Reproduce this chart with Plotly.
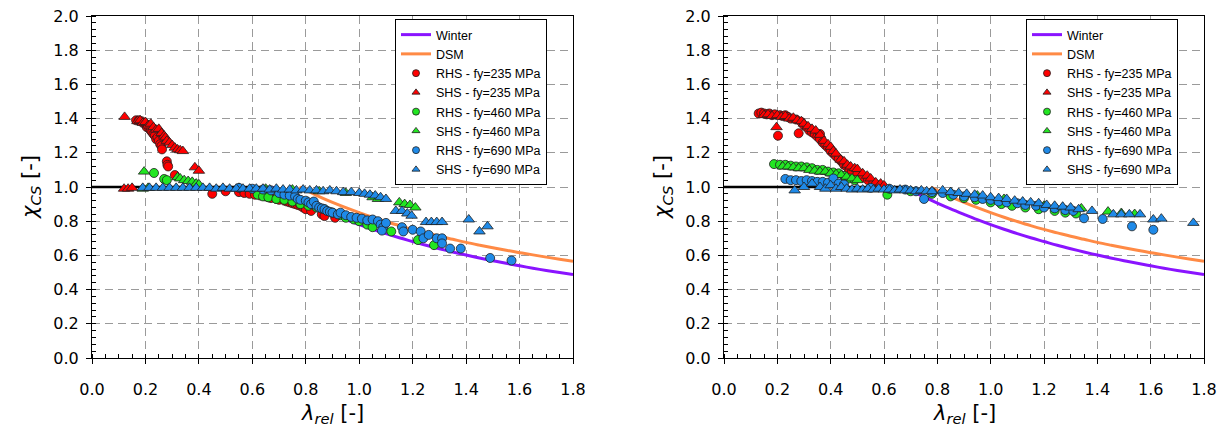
import plotly.graph_objects as go

# ---------------- data ----------------
# design curves (lambda_rel, chi)
WINTER_X = [0.673, 0.70, 0.75, 0.80, 0.85, 0.90, 0.95, 1.00, 1.05, 1.10, 1.15, 1.20, 1.25, 1.30,
            1.35, 1.40, 1.45, 1.50, 1.55, 1.60, 1.65, 1.70, 1.75, 1.80]
WINTER_Y = [1.000, 0.980, 0.942, 0.906, 0.872, 0.840, 0.809, 0.780, 0.753, 0.727, 0.703, 0.681,
            0.659, 0.639, 0.620, 0.602, 0.585, 0.569, 0.554, 0.539, 0.525, 0.512, 0.500, 0.488]
DSM_X = [0.776, 0.80, 0.85, 0.90, 0.95, 1.00, 1.05, 1.10, 1.15, 1.20, 1.25, 1.30, 1.35, 1.40,
         1.45, 1.50, 1.55, 1.60, 1.65, 1.70, 1.75, 1.80]
DSM_Y = [1.000, 0.981, 0.944, 0.910, 0.879, 0.850, 0.823, 0.798, 0.774, 0.752, 0.732, 0.712,
         0.694, 0.676, 0.660, 0.645, 0.630, 0.616, 0.603, 0.590, 0.578, 0.566]
PLATEAU_X = [0.0, 0.673]
PLATEAU_Y = [1.0, 1.0]

# left panel test points (lambda_rel, chi)
A_RHS235 = [(0.165, 1.39), (0.175, 1.39), (0.185, 1.385), (0.19, 1.375), (0.20, 1.37), (0.205, 1.35),
            (0.21, 1.36), (0.215, 1.34), (0.22, 1.33), (0.225, 1.32), (0.23, 1.31), (0.235, 1.30),
            (0.24, 1.28), (0.245, 1.29), (0.25, 1.27), (0.255, 1.25), (0.26, 1.24), (0.262, 1.22),
            (0.28, 1.15), (0.282, 1.13), (0.285, 1.12), (0.31, 1.07), (0.45, 0.96), (0.50, 0.975),
            (0.55, 0.97), (0.57, 0.965), (0.59, 0.96), (0.61, 0.955), (0.63, 0.95), (0.65, 0.945),
            (0.66, 0.94), (0.67, 0.935), (0.69, 0.93), (0.70, 0.925), (0.72, 0.92), (0.73, 0.915),
            (0.74, 0.91), (0.75, 0.905), (0.76, 0.90), (0.77, 0.895), (0.78, 0.89), (0.79, 0.88),
            (0.80, 0.87), (0.82, 0.86), (0.86, 0.84), (0.87, 0.83), (0.91, 0.82)]
A_SHS235 = [(0.122, 1.41), (0.12, 0.99), (0.135, 0.99), (0.15, 0.995), (0.17, 1.385), (0.18, 1.39),
            (0.19, 1.375), (0.20, 1.38), (0.21, 1.36), (0.22, 1.37), (0.23, 1.35), (0.24, 1.335),
            (0.25, 1.34), (0.26, 1.315), (0.27, 1.30), (0.275, 1.29), (0.28, 1.27), (0.29, 1.26),
            (0.30, 1.245), (0.31, 1.23), (0.32, 1.22), (0.33, 1.215), (0.34, 1.21), (0.385, 1.115),
            (0.40, 1.095)]
A_RHS460 = [(0.232, 1.082), (0.27, 1.047), (0.28, 1.04), (0.62, 0.955), (0.64, 0.945), (0.66, 0.94),
            (0.69, 0.93), (0.72, 0.925), (0.75, 0.915), (0.78, 0.90), (0.81, 0.89), (0.84, 0.88),
            (0.87, 0.87), (0.90, 0.85), (0.93, 0.835), (0.95, 0.82), (0.98, 0.81), (1.00, 0.80),
            (1.03, 0.78), (1.05, 0.765), (1.12, 0.74), (1.22, 0.69), (1.28, 0.66)]
A_SHS460 = [(0.19, 0.99), (0.195, 1.09), (0.21, 0.995), (0.32, 1.057), (0.33, 1.05), (0.345, 1.04),
            (0.36, 1.035), (0.375, 1.03), (0.39, 1.02), (0.40, 1.015), (0.55, 0.995), (0.65, 0.99),
            (0.75, 0.985), (0.85, 0.975), (0.95, 0.965), (1.05, 0.94), (1.07, 0.93), (1.15, 0.91),
            (1.17, 0.90), (1.19, 0.895), (1.21, 0.88)]
A_RHS690 = [(0.55, 0.995), (0.60, 0.99), (0.64, 0.985), (0.67, 0.98), (0.70, 0.965), (0.72, 0.955),
            (0.74, 0.95), (0.76, 0.945), (0.77, 0.93), (0.78, 0.925), (0.80, 0.92), (0.81, 0.91),
            (0.82, 0.90), (0.83, 0.915), (0.84, 0.89), (0.85, 0.88), (0.86, 0.875), (0.87, 0.87),
            (0.88, 0.86), (0.89, 0.855), (0.90, 0.85), (0.92, 0.84), (0.93, 0.85), (0.95, 0.835),
            (0.97, 0.825), (0.99, 0.82), (1.01, 0.815), (1.03, 0.805), (1.05, 0.81), (1.07, 0.80),
            (1.08, 0.78), (1.09, 0.765), (1.085, 0.745), (1.10, 0.79), (1.16, 0.765), (1.165, 0.74),
            (1.20, 0.75), (1.23, 0.74), (1.24, 0.70), (1.26, 0.72), (1.29, 0.70), (1.31, 0.70),
            (1.31, 0.67), (1.34, 0.64), (1.38, 0.64), (1.49, 0.585), (1.57, 0.57)]
A_SHS690 = [(0.19, 0.995), (0.215, 0.995), (0.24, 0.995), (0.265, 0.995), (0.29, 0.995), (0.315, 0.995),
            (0.34, 0.995), (0.365, 0.995), (0.39, 0.995), (0.415, 0.995), (0.44, 0.995), (0.465, 0.99),
            (0.49, 0.995), (0.515, 0.99), (0.54, 0.99), (0.565, 0.99), (0.59, 0.99), (0.615, 0.99),
            (0.64, 0.99), (0.665, 0.985), (0.69, 0.99), (0.715, 0.985), (0.74, 0.985), (0.765, 0.98),
            (0.79, 0.985), (0.815, 0.98), (0.84, 0.98), (0.865, 0.975), (0.89, 0.98), (0.915, 0.975),
            (0.94, 0.97), (0.97, 0.97), (1.00, 0.965), (1.02, 0.96), (1.04, 0.955), (1.06, 0.95),
            (1.08, 0.94), (1.10, 0.93), (1.137, 0.86), (1.16, 0.86), (1.18, 0.845), (1.196, 0.832),
            (1.25, 0.795), (1.27, 0.795), (1.29, 0.795), (1.31, 0.795), (1.41, 0.81), (1.45, 0.74),
            (1.48, 0.77)]

# right panel test points (lambda_rel, chi)
B_RHS235 = [(0.13, 1.43), (0.14, 1.435), (0.15, 1.43), (0.16, 1.425), (0.17, 1.43), (0.18, 1.42),
            (0.19, 1.425), (0.2025, 1.30), (0.21, 1.42), (0.22, 1.415), (0.23, 1.42), (0.24, 1.41),
            (0.25, 1.40), (0.28, 1.314), (0.27, 1.395), (0.29, 1.38), (0.30, 1.36), (0.31, 1.35),
            (0.32, 1.33), (0.33, 1.32), (0.34, 1.31), (0.35, 1.295), (0.36, 1.31), (0.36, 1.28),
            (0.37, 1.26), (0.38, 1.245), (0.39, 1.23), (0.40, 1.21), (0.41, 1.195), (0.42, 1.18),
            (0.43, 1.165), (0.44, 1.15), (0.45, 1.13), (0.46, 1.12), (0.47, 1.10), (0.48, 1.09),
            (0.50, 1.075), (0.52, 1.055), (0.54, 1.04), (0.56, 1.025), (0.58, 1.01)]
B_SHS235 = [(0.15, 1.42), (0.165, 1.425), (0.18, 1.415), (0.197, 1.35), (0.20, 1.42), (0.215, 1.41),
            (0.23, 1.415), (0.245, 1.40), (0.26, 1.405), (0.275, 1.39), (0.29, 1.385), (0.30, 1.37),
            (0.315, 1.355), (0.33, 1.34), (0.344, 1.33), (0.36, 1.305), (0.375, 1.27), (0.39, 1.25),
            (0.40, 1.235), (0.41, 1.21), (0.42, 1.195), (0.4375, 1.16), (0.45, 1.15), (0.4625, 1.13),
            (0.475, 1.12), (0.49, 1.11), (0.50, 1.105), (0.52, 1.08), (0.537, 1.066), (0.55, 1.05),
            (0.569, 1.027), (0.5875, 1.02), (0.60, 1.01)]
B_RHS460 = [(0.1875, 1.134), (0.21, 1.13), (0.23, 1.13), (0.25, 1.125), (0.27, 1.12), (0.29, 1.12),
            (0.31, 1.115), (0.33, 1.11), (0.35, 1.10), (0.37, 1.10), (0.39, 1.09), (0.41, 1.085),
            (0.43, 1.08), (0.45, 1.065), (0.47, 1.05), (0.49, 1.04), (0.6125, 0.955), (0.70, 0.975),
            (0.78, 0.96), (0.85, 0.945), (0.90, 0.935), (0.945, 0.925), (1.00, 0.91), (1.04, 0.90),
            (1.08, 0.89), (1.13, 0.88), (1.18, 0.87), (1.24, 0.86), (1.28, 0.85), (1.32, 0.845)]
B_SHS460 = [(0.22, 1.12), (0.24, 1.12), (0.26, 1.115), (0.28, 1.11), (0.30, 1.11), (0.32, 1.10),
            (0.34, 1.095), (0.36, 1.09), (0.38, 1.09), (0.40, 1.08), (0.42, 1.075), (0.44, 1.07),
            (0.46, 1.06), (0.48, 1.05), (0.50, 1.04), (0.85, 0.97), (0.95, 0.95), (1.05, 0.93),
            (1.12, 0.91), (1.20, 0.89), (1.27, 0.88), (1.34, 0.875), (1.44, 0.856), (1.49, 0.848),
            (1.54, 0.842)]
B_RHS690 = [(0.23, 1.047), (0.25, 1.04), (0.27, 1.04), (0.29, 1.035), (0.31, 1.04), (0.33, 1.035),
            (0.35, 1.03), (0.37, 1.03), (0.39, 1.025), (0.41, 1.05), (0.43, 1.02), (0.45, 1.015),
            (0.55, 0.995), (0.62, 0.99), (0.68, 0.985), (0.72, 0.975), (0.75, 0.93), (0.78, 0.97),
            (0.82, 0.965), (0.86, 0.955), (0.90, 0.945), (0.94, 0.94), (0.97, 0.93), (1.00, 0.925),
            (1.03, 0.915), (1.06, 0.91), (1.10, 0.905), (1.13, 0.895), (1.17, 0.89), (1.20, 0.88),
            (1.24, 0.875), (1.28, 0.865), (1.31, 0.86), (1.35, 0.817), (1.42, 0.813), (1.53, 0.77),
            (1.61, 0.75)]
B_SHS690 = [(0.265, 0.98), (0.30, 1.0), (0.33, 1.02), (0.36, 1.0), (0.38, 0.99), (0.40, 1.01),
            (0.42, 0.99), (0.44, 1.0), (0.46, 0.99), (0.48, 0.985), (0.50, 0.99), (0.52, 0.985),
            (0.54, 0.99), (0.56, 0.985), (0.58, 0.99), (0.60, 0.985), (0.62, 0.985), (0.64, 0.98),
            (0.66, 0.985), (0.68, 0.98), (0.70, 0.98), (0.72, 0.975), (0.74, 0.98), (0.76, 0.975),
            (0.78, 0.975), (0.82, 0.98), (0.85, 0.97), (0.88, 0.965), (0.91, 0.96), (0.94, 0.955),
            (0.97, 0.95), (1.00, 0.94), (1.03, 0.935), (1.06, 0.93), (1.09, 0.92), (1.12, 0.915),
            (1.15, 0.91), (1.18, 0.905), (1.21, 0.895), (1.24, 0.89), (1.27, 0.885), (1.30, 0.88),
            (1.33, 0.87), (1.38, 0.86), (1.46, 0.84), (1.49, 0.84), (1.52, 0.84), (1.56, 0.84),
            (1.61, 0.81), (1.64, 0.815), (1.76, 0.79)]

SERIES_NAMES = ["RHS - fy=235 MPa", "SHS - fy=235 MPa", "RHS - fy=460 MPa",
                "SHS - fy=460 MPa", "RHS - fy=690 MPa", "SHS - fy=690 MPa"]
PANEL_A = [A_RHS235, A_SHS235, A_RHS460, A_SHS460, A_RHS690, A_SHS690]
PANEL_B = [B_RHS235, B_SHS235, B_RHS460, B_SHS460, B_RHS690, B_SHS690]

# ---------------- styling ----------------
W, H = 1222, 429
RED, GREEN, BLUE = "#ff0000", "#22e622", "#1f8ae8"
SERIES_COLORS = [RED, RED, GREEN, GREEN, BLUE, BLUE]
SERIES_SYMBOLS = ["circle", "triangle-up"] * 3
PURPLE, ORANGE = "#8a14ff", "#ff8a45"

X_DOMAINS = [[92 / W, 573 / W], [724 / W, 1204 / W]]
Y_DOMAIN = [(H - 358) / H, (H - 16) / H]

fig = go.Figure()

for p, panel in enumerate([PANEL_A, PANEL_B]):
    xa = "x" if p == 0 else "x2"
    ya = "y" if p == 0 else "y2"
    lg = "legend" if p == 0 else "legend2"
    fig.add_trace(go.Scatter(x=PLATEAU_X, y=PLATEAU_Y, mode="lines", line=dict(color="black", width=2.5),
                             showlegend=False, xaxis=xa, yaxis=ya, hoverinfo="skip"))
    fig.add_trace(go.Scatter(x=WINTER_X, y=WINTER_Y, mode="lines", name="Winter",
                             line=dict(color=PURPLE, width=3, shape="spline"), xaxis=xa, yaxis=ya, legend=lg))
    fig.add_trace(go.Scatter(x=DSM_X, y=DSM_Y, mode="lines", name="DSM",
                             line=dict(color=ORANGE, width=3, shape="spline"), xaxis=xa, yaxis=ya, legend=lg))
    for pts, name, col, sym in zip(panel, SERIES_NAMES, SERIES_COLORS, SERIES_SYMBOLS):
        fig.add_trace(go.Scatter(x=[q[0] for q in pts], y=[q[1] for q in pts], mode="markers", name=name,
                                 marker=dict(color=col, symbol=sym, size=9 if sym == "circle" else 10,
                                             line=dict(color="#202020", width=0.8)),
                                 showlegend=False, xaxis=xa, yaxis=ya))
    for name, col, sym in zip(SERIES_NAMES, SERIES_COLORS, SERIES_SYMBOLS):
        fig.add_trace(go.Scatter(x=[None], y=[None], mode="markers", name=name,
                                 marker=dict(color=col, symbol=sym, size=7,
                                             line=dict(color="#202020", width=0.8)),
                                 xaxis=xa, yaxis=ya, legend=lg))

TICKFONT = dict(family="DejaVu Sans", size=16, color="black")


def xaxis(dom, anchor):
    return dict(domain=dom, anchor=anchor, range=[0, 1.8], tick0=0, dtick=0.2, tickformat=".1f",
                showgrid=True, gridcolor="#9a9a9a", gridwidth=1, griddash="8px,5px",
                showline=True, linecolor="black", linewidth=1, mirror=True, automargin=False,
                ticks="outside", ticklen=5, tickcolor="black", zeroline=False,
                minor=dict(dtick=0.05, ticks="inside", ticklen=4, tickcolor="black", showgrid=False),
                tickfont=TICKFONT, ticklabelstandoff=12)


def yaxis(anchor):
    return dict(domain=Y_DOMAIN, anchor=anchor, range=[0, 2.0], tick0=0, dtick=0.2, tickformat=".1f",
                showgrid=True, gridcolor="#9a9a9a", gridwidth=1, griddash="8px,5px",
                showline=True, linecolor="black", linewidth=1, mirror=True, automargin=False,
                ticks="outside", ticklen=5, tickcolor="black", zeroline=False,
                minor=dict(dtick=0.04, ticks="inside", ticklen=4, tickcolor="black", showgrid=False),
                tickfont=TICKFONT, ticklabelstandoff=4)


LEGEND_STYLE = dict(xanchor="left", yanchor="top", bgcolor="white", bordercolor="black", borderwidth=1,
                    font=dict(family="Liberation Sans, Arial", size=12.5, color="black"),
                    tracegroupgap=0, itemsizing="trace")

fig.update_layout(
    width=W, height=H, margin=dict(l=0, r=0, t=0, b=0, autoexpand=False),
    paper_bgcolor="white", plot_bgcolor="white",
    xaxis=xaxis(X_DOMAINS[0], "y"), yaxis=yaxis("x"),
    xaxis2=xaxis(X_DOMAINS[1], "y2"), yaxis2=yaxis("x2"),
    legend=dict(x=395 / W, y=(H - 19) / H, **LEGEND_STYLE),
    legend2=dict(x=1026 / W, y=(H - 19) / H, **LEGEND_STYLE),
)

XTITLE = "<i>λ</i><sub><i>rel</i></sub> [-]"
YTITLE = "<i>χ</i><sub><i>CS</i></sub> [-]"
TITLEFONT = dict(family="DejaVu Sans", size=21, color="black")
for dom in X_DOMAINS:
    fig.add_annotation(text=XTITLE, xref="paper", yref="paper", x=(dom[0] + dom[1]) / 2,
                       y=(H - 414) / H, xanchor="center", yanchor="middle", showarrow=False, font=TITLEFONT)
    fig.add_annotation(text=YTITLE, xref="paper", yref="paper", x=dom[0] - 61 / W,
                       y=(Y_DOMAIN[0] + Y_DOMAIN[1]) / 2, xanchor="center", yanchor="middle",
                       textangle=-90, showarrow=False, font=TITLEFONT)

fig.write_html("out.html")
